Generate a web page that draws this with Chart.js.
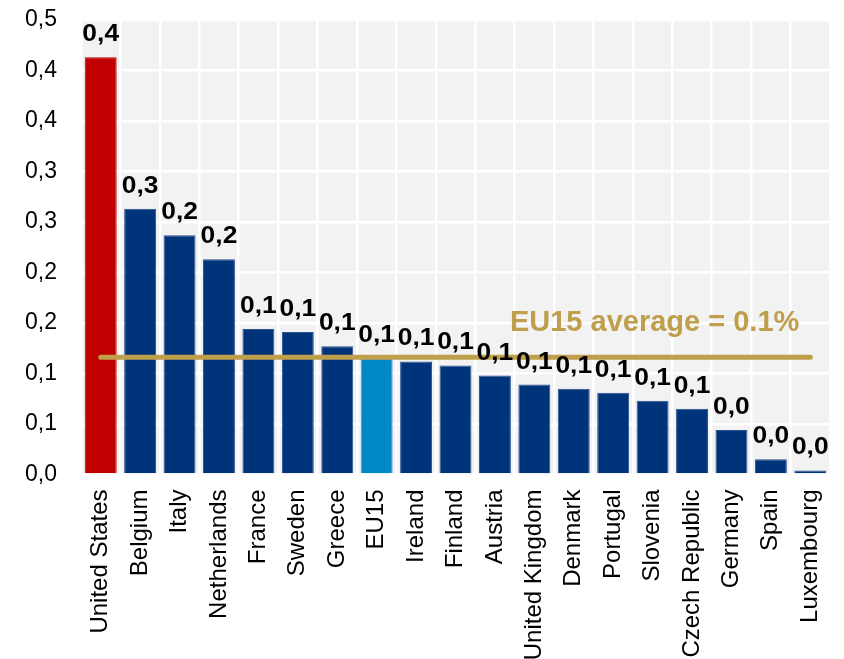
<!DOCTYPE html>
<html>
<head>
<meta charset="utf-8">
<script src="https://cdn.jsdelivr.net/npm/chart.js@4.4.1/dist/chart.umd.min.js"></script>
<style>
  body { margin: 0; background: #fff; }
  #wrap { width: 844px; height: 659px; }
</style>
</head>
<body>
<div id="wrap"><canvas id="shareChart"></canvas></div>
<script>
// values (share, %)
const countries = ['United States', 'Belgium', 'Italy', 'Netherlands', 'France', 'Sweden', 'Greece', 'EU15',
  'Ireland', 'Finland', 'Austria', 'United Kingdom', 'Denmark', 'Portugal', 'Slovenia', 'Czech Republic',
  'Germany', 'Spain', 'Luxembourg'];
const shares = [0.413, 0.263, 0.237, 0.213, 0.144, 0.141, 0.127, 0.115, 0.112, 0.108, 0.098, 0.089, 0.085,
  0.081, 0.073, 0.065, 0.044, 0.015, 0.004];
const eu15Average = 0.116;
const yTickLabels = ['0,0', '0,1', '0,1', '0,2', '0,2', '0,3', '0,3', '0,4', '0,4', '0,5'];
const averageText = 'EU15 average = 0.1%';

const FONT = "'Liberation Sans', Arial, sans-serif";

function barColor(name) {
  if (name === 'United States') return '#C00000';
  if (name === 'EU15') return '#0088C6';
  return '#00347A';
}
function barEdge(name) {
  if (name === 'United States') return '#C00000';
  if (name === 'EU15') return '#2f9bd0';
  return '#2c5290';
}

// grey plot background
const plotBackground = {
  id: 'plotBackground',
  beforeDraw(chart) {
    const a = chart.chartArea;
    const ctx = chart.ctx;
    ctx.save();
    ctx.fillStyle = '#F2F2F2';
    ctx.fillRect(a.left, a.top, a.right - a.left, a.bottom - a.top);
    ctx.restore();
  }
};

// value labels over the bars + the average caption
const labelsPlugin = {
  id: 'labelsPlugin',
  afterDatasetsDraw(chart) {
    const ctx = chart.ctx;
    const meta = chart.getDatasetMeta(0);
    ctx.save();
    ctx.font = 'bold 24px ' + FONT;
    ctx.fillStyle = '#000';
    ctx.textAlign = 'center';
    ctx.textBaseline = 'alphabetic';
    meta.data.forEach((bar, i) => {
      const txt = shares[i].toFixed(1).replace('.', ',');
      // the source labels are a bit wider than Arial
      ctx.save();
      ctx.translate(bar.x, bar.y - 16);
      ctx.scale(1.1, 1);
      ctx.fillText(txt, 0, 0);
      ctx.restore();
    });

    const xs = chart.scales.x, ys = chart.scales.y;
    ctx.font = 'bold 29px ' + FONT;
    ctx.fillStyle = '#BF9E4C';
    ctx.fillText(averageText, xs.getPixelForValue(countries.indexOf('Slovenia')) + 2, ys.getPixelForValue(0.142));
    ctx.restore();
  }
};

const data = {
  labels: countries,
  datasets: [{
    type: 'bar',
    data: shares,
    backgroundColor: countries.map(barColor),
    borderColor: countries.map(barEdge),
    borderWidth: 1,
    barPercentage: 0.81,
    categoryPercentage: 1,
    order: 1
  }, {
    type: 'line',
    data: countries.map(() => eu15Average),
    borderColor: '#BF9E4C',
    borderWidth: 5,
    borderCapStyle: 'round',
    pointRadius: 0,
    fill: false,
    order: 0
  }]
};

const config = {
  type: 'bar',
  data: data,
  options: {
    responsive: true,
    maintainAspectRatio: false,
    animation: false,
    layout: { padding: { top: 20, left: 25, right: 14, bottom: 0 } },
    plugins: {
      legend: { display: false },
      tooltip: { enabled: false }
    },
    scales: {
      x: {
        grid: { color: '#FFFFFF', lineWidth: 2.5, drawTicks: false, offset: true },
        border: { display: false },
        ticks: {
          autoSkip: false,
          minRotation: 90,
          maxRotation: 90,
          padding: 15,
          color: '#000',
          font: { family: FONT, size: 24 }
        },
        afterFit(scale) {
          scale.height = 184.5;
          scale.paddingLeft = 0;
          scale.paddingRight = 0;
        }
      },
      y: {
        min: 0,
        max: 0.45,
        grid: { color: '#FFFFFF', lineWidth: 2.5, drawTicks: false },
        border: { display: false },
        ticks: {
          stepSize: 0.05,
          padding: 24,
          color: '#000',
          font: { family: FONT, size: 23 },
          callback: (v, i) => yTickLabels[i]
        },
        afterFit(scale) {
          scale.width = 56;
          scale.paddingTop = 0;
          scale.paddingBottom = 0;
        }
      }
    }
  },
  plugins: [plotBackground, labelsPlugin]
};

const shareChart = new Chart(document.getElementById('shareChart'), config);
</script>
</body>
</html>
